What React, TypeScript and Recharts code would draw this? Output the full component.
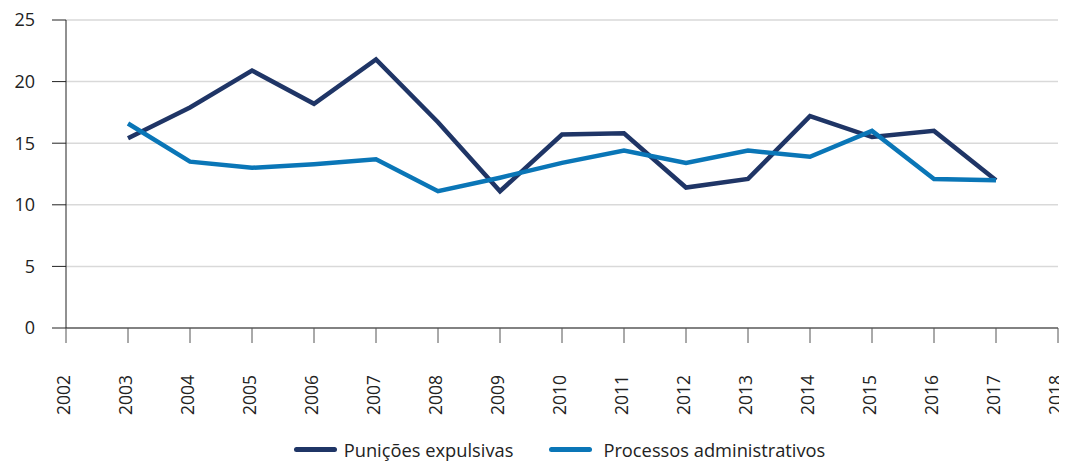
import React from "react";
import { LineChart, Line, XAxis, YAxis, CartesianGrid, Legend } from "recharts";

const years = [2003, 2004, 2005, 2006, 2007, 2008, 2009, 2010, 2011, 2012, 2013, 2014, 2015, 2016, 2017];
const punicoes = [15.4, 17.9, 20.9, 18.2, 21.8, 16.7, 11.1, 15.7, 15.8, 11.4, 12.1, 17.2, 15.5, 16.0, 12.0];
const processos = [16.6, 13.5, 13.0, 13.3, 13.7, 11.1, 12.2, 13.4, 14.4, 13.4, 14.4, 13.9, 16.0, 12.1, 12.0];
const xTicks = [2002, 2003, 2004, 2005, 2006, 2007, 2008, 2009, 2010, 2011, 2012, 2013, 2014, 2015, 2016, 2017, 2018];
const yTicks = [0, 5, 10, 15, 20, 25];

const seriesNames = ["Punições expulsivas", "Processos administrativos"];
const colors = ["#1f3566", "#0a76b7"];

const data = years.map((y, i) => ({ year: y, a: punicoes[i], b: processos[i] }));

const XTick = (props: any) => {
  const { x, y, payload } = props;
  return (
    <g transform={`translate(${x},${y})`}>
      <text transform="rotate(-90)" textAnchor="end" dy="0.2em" fill="#222" fontSize={17.5}>
        {payload.value}
      </text>
    </g>
  );
};

const LegendContent = () => {
  return (
    <div style={{ display: "flex", justifyContent: "center", paddingLeft: 53, alignItems: "center", height: 24 }}>
      {seriesNames.map((name, i) => (
        <div key={i} style={{ display: "flex", alignItems: "center", marginRight: i === 0 ? 36 : 0 }}>
          <div style={{ width: 43, height: 5, borderRadius: 3, background: colors[i], marginRight: i === 0 ? 7 : 11 }} />
          <span style={{ fontSize: 18.3, color: "#222" }}>{name}</span>
        </div>
      ))}
    </div>
  );
};

export default function App() {
  return (
    <div style={{ fontFamily: "'Open Sans', 'Noto Sans', sans-serif" }}>
      <LineChart width={1059} height={453} data={data} margin={{ top: 12, right: 9, bottom: 0, left: 0 }} style={{ overflow: "visible" }}>
        <CartesianGrid yAxisId="l" vertical={false} stroke="#d9d9d9" strokeWidth={1.5} />
        <XAxis
          dataKey="year"
          type="number"
          domain={[2002, 2018]}
          ticks={xTicks}
          interval={0}
          tickSize={15}
          tickMargin={32}
          height={109}
          stroke="#222"
          tickLine={{ stroke: "#555" }}
          tick={<XTick />}
        />
        <YAxis
          yAxisId="l"
          domain={[0, 25]}
          ticks={yTicks}
          width={58}
          tickSize={14}
          tickMargin={17}
          stroke="#222"
          tick={{ fill: "#222", fontSize: 18 }}
        />
        <YAxis
          yAxisId="r"
          orientation="right"
          domain={[0, 25]}
          width={0}
          tick={false}
          tickLine={false}
          axisLine={{ stroke: "#d9d9d9", strokeWidth: 1.5 }}
        />
        <Legend verticalAlign="bottom" height={24} content={<LegendContent />} />
        <Line yAxisId="l" type="linear" dataKey="a" name={seriesNames[0]} stroke={colors[0]} strokeWidth={4.5} dot={false} isAnimationActive={false} />
        <Line yAxisId="l" type="linear" dataKey="b" name={seriesNames[1]} stroke={colors[1]} strokeWidth={4.5} dot={false} isAnimationActive={false} />
      </LineChart>
    </div>
  );
}
